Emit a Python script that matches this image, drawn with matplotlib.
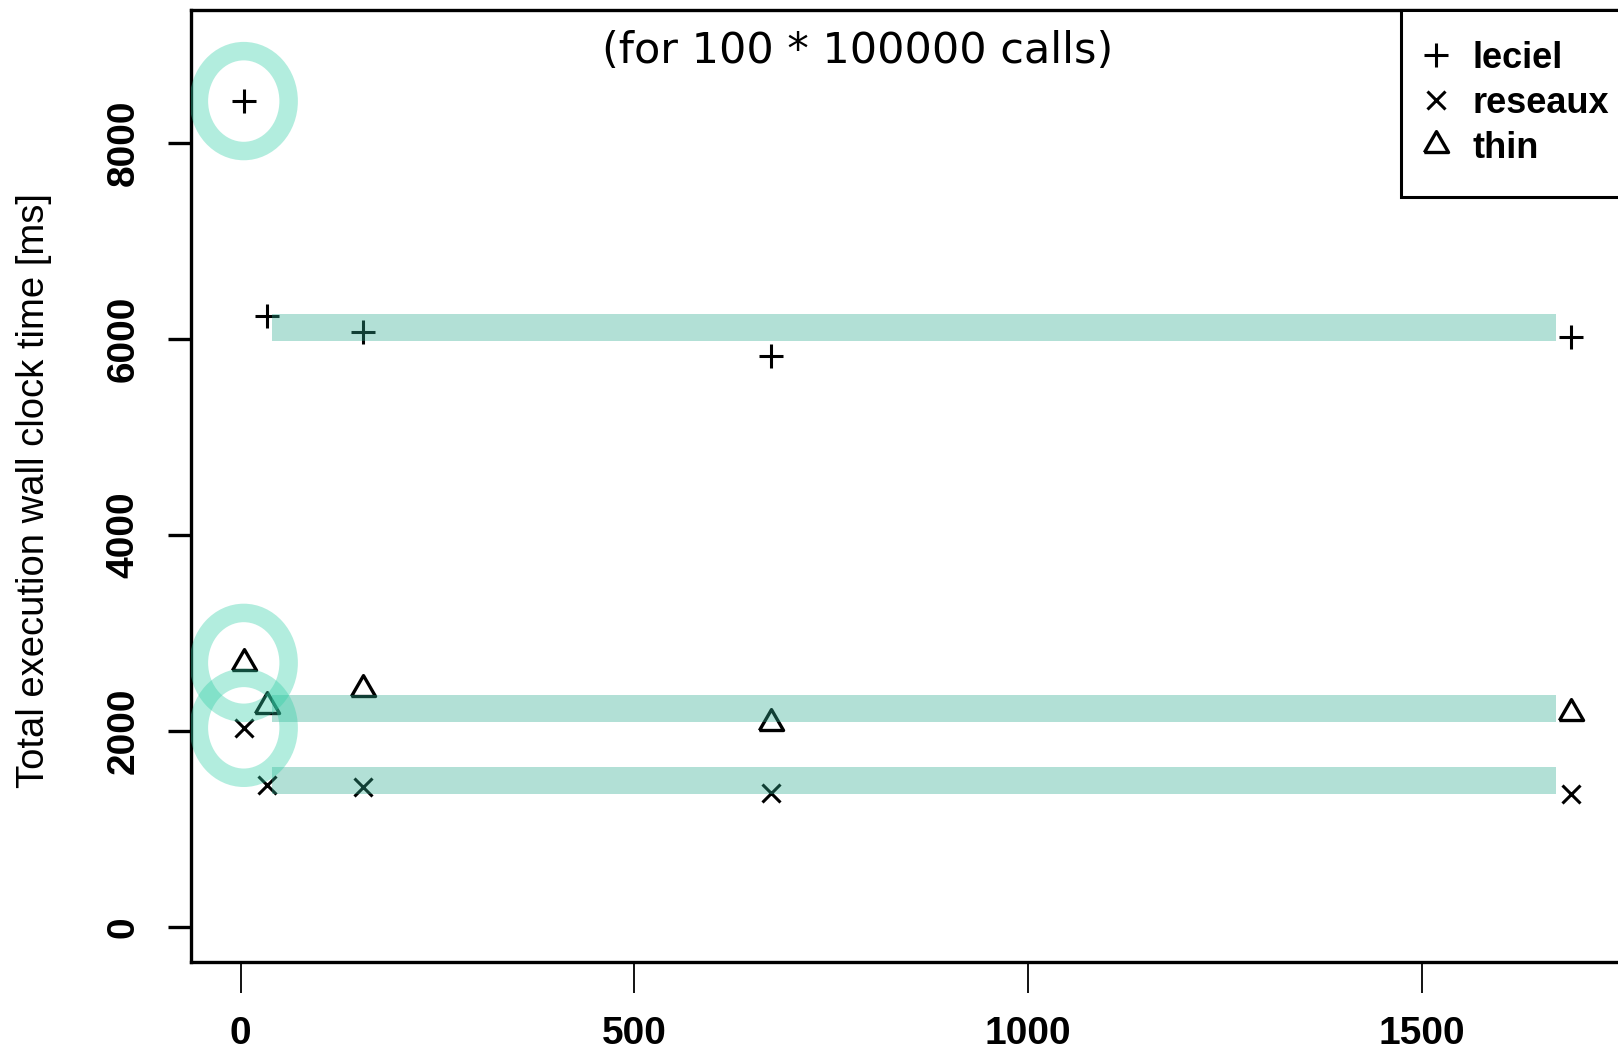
import matplotlib
matplotlib.use("Agg")
import matplotlib.pyplot as plt
from matplotlib import font_manager
from matplotlib.patches import Ellipse
from matplotlib.lines import Line2D

# data
sizes = [4, 34, 155, 674, 1690]
leciel = [8430, 6235, 6068, 5827, 6023]
reseaux = [2031, 1449, 1429, 1370, 1357]
thin = [2694, 2255, 2428, 2082, 2180]

# highlight bands (y centre of each band) and circled first points
band_y = [6119, 2227, 1490]
band_from, band_to = 40, 1671
circled = [(sizes[0], leciel[0]), (sizes[0], thin[0]), (sizes[0], reseaux[0])]

names = [f.name for f in font_manager.fontManager.ttflist]
tick_font = "Liberation Sans Narrow" if "Liberation Sans Narrow" in names else "Liberation Sans"

W, H = 1618, 1049
fig = plt.figure(figsize=(W / 100, H / 100), dpi=100)
ax = fig.add_axes([191 / W, 87 / H, (1624 - 191) / W, (962 - 10) / H])

tri = [(-1, -0.58), (1, -0.58), (0, 1.15), (-1, -0.58)]
ax.plot(sizes, leciel, ls="none", marker="+", ms=17, mew=2.2, color="black", zorder=2)
ax.plot(sizes, reseaux, ls="none", marker="x", ms=12.5, mew=2.2, color="black", zorder=2)
ax.plot(sizes, thin, ls="none", marker=tri, ms=20, mew=2.4, mfc="none", mec="black", zorder=2)

# translucent highlights drawn over the points
for y in band_y:
    ax.fill_between([band_from, band_to], y - 136, y + 136, color="#30ad91",
                    alpha=0.37, lw=0, zorder=3)
for cx, cy in circled:
    ax.add_patch(Ellipse((cx, cy), 114, 1020, fill=False, ec="#30cfa6",
                         alpha=0.37, lw=13.3, zorder=3))

ax.set_xlim(-63, 1757)
ax.set_ylim(-360, 9360)
ax.set_xticks([0, 500, 1000, 1500])
ax.set_yticks([0, 2000, 4000, 6000, 8000])

for s in ["top", "left", "bottom", "right"]:
    ax.spines[s].set_linewidth(2.4)
ax.tick_params(axis="x", length=22, width=1.3, pad=17, labelsize=28)
ax.tick_params(axis="y", length=16.5, width=2.4, pad=19, labelsize=28)
for lab in ax.get_xticklabels() + ax.get_yticklabels():
    lab.set_fontfamily(tick_font)
    lab.set_fontweight("bold")
for lab in ax.get_yticklabels():
    lab.set_rotation(90)
    lab.set_verticalalignment("center")

fig.text(858 / W, 1 - 51 / H, "(for 100 * 100000 calls)", ha="center", va="center",
         fontsize=31, family="DejaVu Sans")
fig.text(34 / W, 1 - 490 / H, "Total execution wall clock time [ms]", rotation=90,
         ha="center", va="center", fontsize=27.5, family="Liberation Sans")

handles = [
    Line2D([], [], ls="none", marker="+", ms=17, mew=2.2, color="black"),
    Line2D([], [], ls="none", marker="x", ms=12.5, mew=2.2, color="black"),
    Line2D([], [], ls="none", marker=tri, ms=20, mew=2.4, mfc="none", mec="black"),
]
leg = ax.legend(handles, ["leciel", "reseaux", "thin"], loc="upper left",
                bbox_to_anchor=(1401 / W, 1 - 10 / H), bbox_transform=fig.transFigure,
                prop={"family": "Liberation Sans", "weight": "bold", "size": 26},
                frameon=True, fancybox=False, edgecolor="black", borderpad=0.85,
                labelspacing=0.28, handlelength=0.25, handletextpad=0.87,
                borderaxespad=0)
leg.get_frame().set_linewidth(2.2)
leg.get_frame().set_alpha(None)

fig.savefig("out.png", dpi=100)
